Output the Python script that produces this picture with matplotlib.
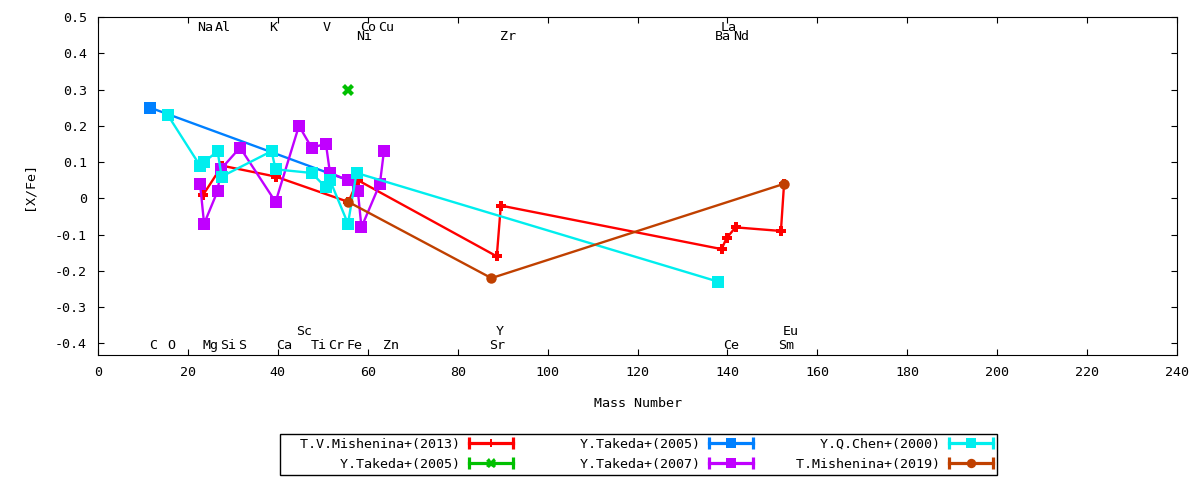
import numpy as np
import matplotlib
matplotlib.use("Agg")
from matplotlib import pyplot as plt
from matplotlib.legend_handler import HandlerBase
from matplotlib.lines import Line2D

# [X/Fe] against mass number
mish13_x = [23.4, 27.6, 39.5, 55.7, 57.8, 88.7, 89.6, 138.7, 139.8, 141.8, 151.9, 152.6]
mish13_y = [0.01, 0.09, 0.06, -0.01, 0.05, -0.16, -0.02, -0.14, -0.11, -0.08, -0.09, 0.04]

takeda05b_x = [55.6]
takeda05b_y = [0.30]

takeda05_x = [11.6, 55.6]
takeda05_y = [0.25, 0.05]

takeda07_x = [22.7, 23.6, 26.6, 27.3, 31.6, 39.5, 44.7, 47.5, 50.7, 51.6, 55.6, 57.8, 58.6, 62.7, 63.6]
takeda07_y = [0.04, -0.07, 0.02, 0.08, 0.14, -0.01, 0.20, 0.14, 0.15, 0.07, 0.05, 0.02, -0.08, 0.04, 0.13]

chen00_x = [15.5, 22.7, 23.6, 26.6, 27.5, 38.6, 39.5, 47.5, 50.7, 51.6, 55.6, 57.5, 138.0]
chen00_y = [0.23, 0.09, 0.10, 0.13, 0.06, 0.13, 0.08, 0.07, 0.03, 0.05, -0.07, 0.07, -0.23]

mish19_x = [55.7, 87.5, 152.6]
mish19_y = [-0.01, -0.22, 0.04]

# element labels
elem_names = ['Na', 'Al', 'K', 'V', 'Co', 'Cu', 'La', 'Ni', 'Zr', 'Ba', 'Nd',
              'Sc', 'Y', 'Eu', 'C', 'O', 'Mg', 'Si', 'S', 'Ca', 'Ti', 'Cr', 'Fe', 'Zn', 'Sr', 'Ce', 'Sm']
elem_x = [23.8, 27.8, 38.9, 50.9, 60.0, 64.0, 140.2, 59.1, 91.1, 139.1, 143.1,
          45.8, 89.3, 154.0, 12.2, 16.2, 25.1, 28.9, 32.0, 41.3, 49.1, 52.9, 57.1, 65.1, 88.7, 140.9, 153.1]
elem_y = [0.472] * 7 + [0.445] * 4 + [-0.367] * 3 + [-0.406] * 13

series = [
    ('T.V.Mishenina+(2013)', mish13_x, mish13_y, '#ff0000', 'P', 7),
    ('Y.Takeda+(2005)', takeda05b_x, takeda05b_y, '#00c000', 'X', 8),
    ('Y.Takeda+(2005)', takeda05_x, takeda05_y, '#0080ff', 's', 8),
    ('Y.Takeda+(2007)', takeda07_x, takeda07_y, '#c000ff', 's', 8),
    ('Y.Q.Chen+(2000)', chen00_x, chen00_y, '#00eeee', 's', 8),
    ('T.Mishenina+(2019)', mish19_x, mish19_y, '#c04000', 'o', 7.5),
]


class CapHandler(HandlerBase):
    # gnuplot style key sample: line with end caps and a point in the middle
    def create_artists(self, legend, orig, xdescent, ydescent, width, height, fontsize, trans):
        y = height / 2 - ydescent
        x0, x1 = -xdescent, width - xdescent
        c = orig.get_color()
        lw = orig.get_linewidth()
        line = Line2D([x0, x1], [y, y], color=c, lw=lw + 0.6, transform=trans)
        caps = Line2D([x0, x1], [y, y], ls='none', marker='|', ms=9, mew=lw + 0.6, color=c, transform=trans)
        pt = Line2D([(x0 + x1) / 2], [y], ls='none', marker=orig.get_marker(),
                    ms=orig.get_markersize() * 0.9, color=c, mew=0, transform=trans)
        return [line, caps, pt]


plt.rcParams['font.family'] = ['DejaVu Sans Mono']
plt.rcParams['font.size'] = 9.6

fig = plt.figure(figsize=(12, 4.8), dpi=100)
ax = fig.add_axes([98 / 1200, 1 - 355 / 480, 1079 / 1200, 338 / 480])

handles = []
for label, xs, ys, col, mk, ms in series:
    h, = ax.plot(xs, ys, color=col, lw=1.7, marker=mk, ms=ms, mew=0, label=label)
    handles.append(h)

for name, x, y in zip(elem_names, elem_x, elem_y):
    ax.text(x, y, name, ha='center', va='center', fontsize=9.6)

ax.set_xlim(0, 240)
ax.set_ylim(-0.432, 0.5)
ax.set_xticks(np.arange(0, 241, 20))
yt = np.round(np.arange(-0.4, 0.51, 0.1), 1)
ax.set_yticks(yt)
ax.set_yticklabels(['0' if v == 0 else f'{v:g}' for v in yt])
ax.tick_params(direction='in', top=True, right=True, length=4, width=0.8, pad=8)
for s in ax.spines.values():
    s.set_linewidth(0.8)

ax.set_xlabel('Mass Number', labelpad=13)
ax.set_ylabel('[X/Fe]', labelpad=14)

labels = [s[0].rjust(22) for s in series]
fig.legend(handles, labels, loc='upper center', bbox_to_anchor=(0.532, 0.096),
           ncol=3, markerfirst=False, handler_map={Line2D: CapHandler()},
           handlelength=3.3, handletextpad=0.68, columnspacing=0.8,
           labelspacing=0.5, borderpad=0.3, fancybox=False, framealpha=1,
           edgecolor='black', borderaxespad=0)

fig.savefig('out.png', dpi=100)
